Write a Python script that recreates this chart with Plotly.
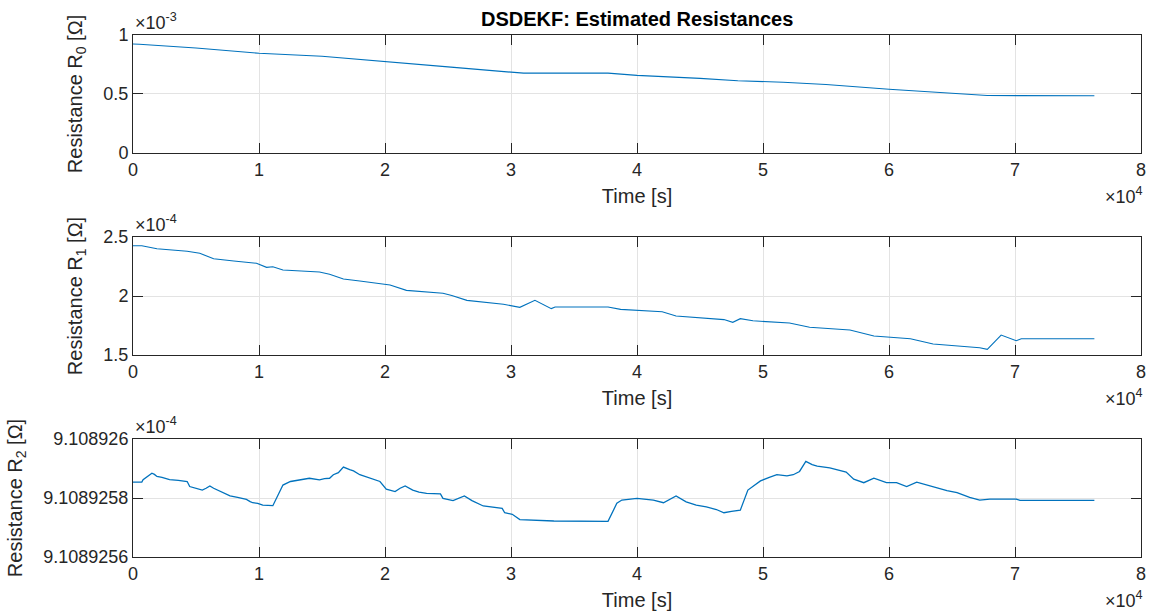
import plotly.graph_objects as go

# ---------------- data ----------------
t_r0 = [0, 500, 5000, 10000, 15000, 20000, 25000, 30000, 31000, 37700, 40000,
        45000, 48000, 51600, 55000, 60000, 64000, 67800, 76300]
r0 = [0.924e-3, 0.922e-3, 0.89e-3, 0.845e-3, 0.82e-3, 0.772e-3, 0.73e-3, 0.685e-3,
      0.677e-3, 0.677e-3, 0.658e-3, 0.632e-3, 0.612e-3, 0.600e-3, 0.58e-3, 0.54e-3,
      0.515e-3, 0.487e-3, 0.485e-3]

t_r1 = [0, 700, 1900, 4300, 5300, 6400, 8000, 9800, 10600, 11100, 11900, 14800,
        15600, 16700, 18000, 19800, 20400, 21700, 24600, 25300, 26500, 29400,
        30700, 31900, 33200, 33500, 37700, 38700, 42000, 43100, 46900, 47600,
        48200, 49200, 51300, 52100, 53700, 56900, 58800, 61700, 63500, 67200,
        67800, 68900, 70100, 70500, 76300]
r1 = [2.426e-4, 2.426e-4, 2.40e-4, 2.379e-4, 2.362e-4, 2.316e-4, 2.297e-4, 2.277e-4,
      2.243e-4, 2.248e-4, 2.22e-4, 2.203e-4, 2.184e-4, 2.144e-4, 2.127e-4, 2.10e-4,
      2.093e-4, 2.048e-4, 2.023e-4, 2.005e-4, 1.963e-4, 1.93e-4, 1.904e-4, 1.963e-4,
      1.893e-4, 1.907e-4, 1.907e-4, 1.887e-4, 1.867e-4, 1.83e-4, 1.80e-4, 1.777e-4,
      1.808e-4, 1.79e-4, 1.777e-4, 1.771e-4, 1.735e-4, 1.712e-4, 1.661e-4, 1.638e-4,
      1.593e-4, 1.562e-4, 1.548e-4, 1.669e-4, 1.621e-4, 1.638e-4, 1.638e-4]

# R2 offset values in units of 1e-11 Ohm around 9.1089258e-4 Ohm
t_r2 = [0, 700, 800, 1100, 1350, 1500, 1700, 1900, 2300, 2900, 3600, 4300, 4500,
        4800, 5500, 5800, 6100, 6400, 6900, 7300, 7700, 8300, 9000, 9300, 9500,
        9900, 10300, 11100, 11400, 11900, 12500, 13200, 14000, 14800, 15200,
        15600, 15900, 16300, 16700, 17200, 17500, 18000, 18800, 19600, 20100,
        20800, 21200, 21600, 22200, 22700, 23300, 24400, 24600, 25400, 26300,
        26900, 27800, 28500, 29300, 29500, 30100, 30700, 33400, 37700, 38400,
        38800, 40000, 41300, 42100, 43100, 43900, 44700, 45500, 46300, 46900,
        47500, 48200, 48800, 49800, 50500, 51100, 51900, 52400, 52900, 53400,
        53900, 54300, 55300, 56600, 57200, 58000, 58800, 59800, 60600, 61400,
        62200, 63400, 64000, 64600, 65400, 66400, 67200, 67800, 68000, 70100,
        70400, 76300]
r2_off = [0.54, 0.54, 0.62, 0.72, 0.81, 0.84, 0.80, 0.73, 0.70, 0.62, 0.60, 0.56,
          0.39, 0.36, 0.27, 0.33, 0.41, 0.33, 0.22, 0.15, 0.07, 0.02, -0.045, -0.12,
          -0.16, -0.18, -0.24, -0.26, -0.01, 0.44, 0.56, 0.60, 0.67, 0.615, 0.66,
          0.67, 0.79, 0.86, 1.05, 0.96, 0.92, 0.79, 0.67, 0.56, 0.30, 0.22, 0.33,
          0.41, 0.27, 0.20, 0.16, 0.14, -0.01, -0.09, 0.07, -0.09, -0.27, -0.30,
          -0.35, -0.5, -0.55, -0.73, -0.78, -0.79, -0.18, -0.07, -0.01, -0.07,
          -0.16, 0.07, -0.13, -0.24, -0.30, -0.39, -0.5, -0.45, -0.41, 0.27, 0.58,
          0.70, 0.79, 0.75, 0.79, 0.90, 1.24, 1.13, 1.08, 1.02, 0.88, 0.64, 0.52,
          0.67, 0.52, 0.52, 0.39, 0.54, 0.39, 0.30, 0.25, 0.18, 0.02, -0.07, -0.04,
          -0.04, -0.04, -0.08, -0.08]
r2_base = 9.1089258e-4
r2 = [r2_base + v * 1e-11 for v in r2_off]

x_tickvals = [0, 10000, 20000, 30000, 40000, 50000, 60000, 70000, 80000]
x_ticktext = ["0", "1", "2", "3", "4", "5", "6", "7", "8"]
y0_tickvals = [0, 0.5e-3, 1e-3]
y0_ticktext = ["0", "0.5", "1"]
y1_tickvals = [1.5e-4, 2e-4, 2.5e-4]
y1_ticktext = ["1.5", "2", "2.5"]
y2_tickvals = [9.1089256e-4, 9.1089258e-4, 9.108926e-4]
y2_ticktext = ["9.1089256", "9.1089258", "9.108926"]

# ---------------- figure ----------------
LINE = "#0072BD"
AX = "#262626"
GRID = "#e3e3e3"
FONT = "Liberation Sans, Arial, Helvetica, sans-serif"
FS = 18
FT = 20

fig = go.Figure()
fig.add_trace(go.Scatter(x=t_r0, y=r0, mode="lines", line=dict(color=LINE, width=1.1),
                         xaxis="x", yaxis="y", showlegend=False))
fig.add_trace(go.Scatter(x=t_r1, y=r1, mode="lines", line=dict(color=LINE, width=1.1),
                         xaxis="x2", yaxis="y2", showlegend=False))
fig.add_trace(go.Scatter(x=t_r2, y=r2, mode="lines", line=dict(color=LINE, width=1.3),
                         xaxis="x3", yaxis="y3", showlegend=False))

domains = [[0.774, 1.0], [0.387, 0.613], [0.0, 0.226]]
ycfg = [(y0_tickvals, y0_ticktext, [0, 1e-3], "Resistance R<sub>0</sub> [Ω]"),
        (y1_tickvals, y1_ticktext, [1.5e-4, 2.5e-4], "Resistance R<sub>1</sub> [Ω]"),
        (y2_tickvals, y2_ticktext, [9.1089256e-4, 9.108926e-4], "Resistance R<sub>2</sub> [Ω]")]

common = dict(showline=True, linecolor=AX, linewidth=1, mirror="allticks",
              ticks="inside", ticklen=10, tickwidth=1, tickcolor=AX,
              showgrid=True, gridcolor=GRID, gridwidth=1, zeroline=False,
              automargin=False,
              tickfont=dict(family=FONT, size=FS, color=AX))

layout = dict(width=1150, height=614, plot_bgcolor="white", paper_bgcolor="white",
              margin=dict(l=133, r=9, t=35, b=57, autoexpand=False),
              font=dict(family=FONT, size=FS, color=AX))
for i in range(3):
    sx = "" if i == 0 else str(i + 1)
    layout["xaxis" + sx] = dict(common, domain=[0, 1], anchor="y" + sx, range=[0, 80000],
                                tickmode="array", tickvals=x_tickvals, ticktext=x_ticktext,
                                title=dict(text="Time [s]", standoff=10,
                                           font=dict(family=FONT, size=FT, color=AX)))
    tv, tt, rg, title = ycfg[i]
    layout["yaxis" + sx] = dict(common, domain=domains[i], anchor="x" + sx, range=rg,
                                tickmode="array", tickvals=tv, ticktext=tt,
                                title=dict(text=title, standoff=15,
                                           font=dict(family=FONT, size=FT, color=AX)))
fig.update_layout(**layout)

exps = ["×10<sup>-3</sup>", "×10<sup>-4</sup>", "×10<sup>-4</sup>"]
for i in range(3):
    top = domains[i][1]
    bot = domains[i][0]
    fig.add_annotation(x=0, y=top, xref="paper", yref="paper", xanchor="left", yanchor="bottom",
                       text=exps[i], showarrow=False, yshift=0,
                       font=dict(family=FONT, size=FS, color=AX))
    fig.add_annotation(x=1, y=bot, xref="paper", yref="paper", xanchor="right", yanchor="top",
                       text="×10<sup>4</sup>", showarrow=False, yshift=-29, xshift=4,
                       font=dict(family=FONT, size=FS, color=AX))

fig.add_annotation(x=0.5, y=1, xref="paper", yref="paper", xanchor="center", yanchor="bottom",
                   text="<b>DSDEKF: Estimated Resistances</b>", showarrow=False, yshift=3,
                   font=dict(family=FONT, size=FT, color="#000000"))

fig.write_html("out.html", config={"displayModeBar": False},
               post_script="document.body.style.margin='0';document.body.style.overflow='hidden';")
